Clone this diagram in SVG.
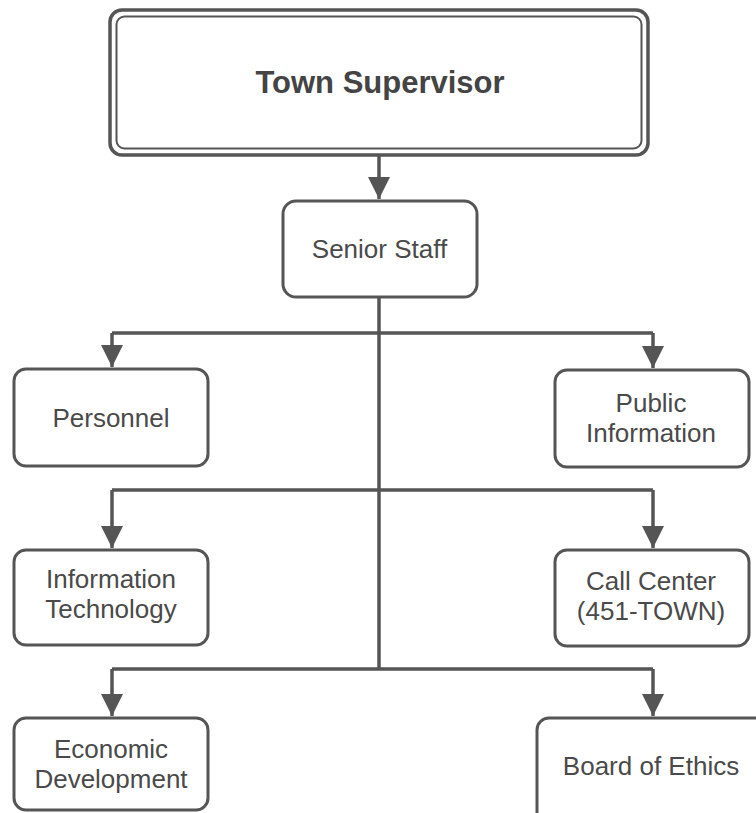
<svg xmlns="http://www.w3.org/2000/svg" width="756" height="813" viewBox="0 0 756 813">
<style>
.box{fill:#fff;stroke:#555;stroke-width:3}
.ln{fill:none;stroke:#555;stroke-width:3.5}
.t{font-family:"Liberation Sans",Arial,sans-serif;font-size:26px;fill:#4a4a4a;text-anchor:middle}
.tb{font-family:"Liberation Sans",Arial,sans-serif;font-size:31px;font-weight:bold;fill:#444;text-anchor:middle}
</style>
<defs>
<marker id="ah" markerUnits="userSpaceOnUse" markerWidth="24" markerHeight="22" refX="22" refY="11" orient="auto">
<path d="M0,0 L22,11 L0,22 Z" fill="#555"/>
</marker>
</defs>
<rect width="756" height="813" fill="#fff"/>
<g id="connectors">
<path class="ln" d="M379,155 V199" marker-end="url(#ah)"/>
<path class="ln" d="M379,297 V669"/>
<path class="ln" d="M112,333 H653"/>
<path class="ln" d="M112,490 H653"/>
<path class="ln" d="M112,669 H653"/>
<path class="ln" d="M112,333 V367" marker-end="url(#ah)"/>
<path class="ln" d="M653,333 V368" marker-end="url(#ah)"/>
<path class="ln" d="M112,490 V548" marker-end="url(#ah)"/>
<path class="ln" d="M653,490 V548" marker-end="url(#ah)"/>
<path class="ln" d="M112,669 V716" marker-end="url(#ah)"/>
<path class="ln" d="M653,669 V716" marker-end="url(#ah)"/>
</g>
<g id="town-supervisor">
<rect x="110" y="10" width="538" height="145" rx="12" fill="#fff" stroke="#555" stroke-width="3.5"/>
<rect x="116.5" y="16.5" width="525" height="132" rx="8" fill="none" stroke="#555" stroke-width="2"/>
<text class="tb" x="380" y="93">Town Supervisor</text>
</g>
<g id="senior-staff">
<rect class="box" x="283" y="201" width="194" height="96" rx="13"/>
<text class="t" x="379.5" y="258">Senior Staff</text>
</g>
<g id="personnel">
<rect class="box" x="14" y="369" width="194" height="97" rx="12"/>
<text class="t" x="111" y="427">Personnel</text>
</g>
<g id="public-information">
<rect class="box" x="555" y="370" width="194" height="97" rx="12"/>
<text class="t" x="651" y="412">Public</text>
<text class="t" x="651" y="442">Information</text>
</g>
<g id="information-technology">
<rect class="box" x="14" y="550" width="194" height="95" rx="12"/>
<text class="t" x="111" y="588">Information</text>
<text class="t" x="111" y="618">Technology</text>
</g>
<g id="call-center">
<rect class="box" x="555" y="550" width="194" height="96" rx="12"/>
<text class="t" x="651" y="590">Call Center</text>
<text class="t" x="651" y="620">(451-TOWN)</text>
</g>
<g id="economic-development">
<rect class="box" x="14" y="718" width="194" height="92" rx="12"/>
<text class="t" x="111" y="758">Economic</text>
<text class="t" x="111" y="788">Development</text>
</g>
<g id="board-of-ethics">
<rect class="box" x="537" y="718" width="240" height="110" rx="12"/>
<text class="t" x="651" y="775">Board of Ethics</text>
</g>
</svg>
